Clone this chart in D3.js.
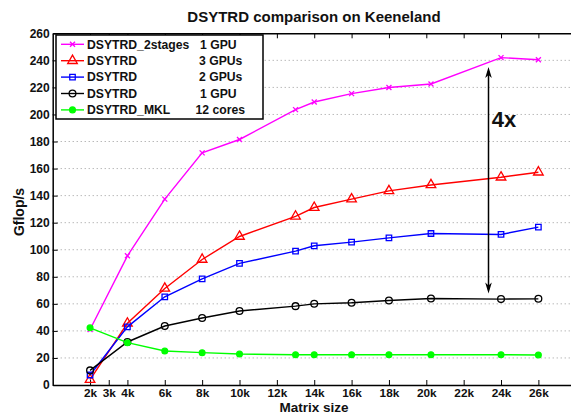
<!DOCTYPE html>
<html>
<head>
<meta charset="utf-8">
<script src="https://cdn.jsdelivr.net/npm/d3@7"></script>
<style>
  body { margin: 0; background: #fff; }
  svg { display: block; font-family: "Liberation Sans", Arial, Helvetica, sans-serif; }
</style>
</head>
<body>
<div id="chart"></div>
<script>
// matrix sizes (in thousands)
const sizes = [2, 4, 6, 8, 10, 13, 14, 16, 18, 20.25, 24, 26];
const xTicks = [2, 3, 4, 6, 8, 10, 12, 14, 16, 18, 20, 22, 24, 26];
const yTicks = [0, 20, 40, 60, 80, 100, 120, 140, 160, 180, 200, 220, 240, 260];

// Gflop/s per series
const twoStages1 = [41, 95.5, 137.4, 171.6, 181.5, 203.6, 209.2, 215.4, 219.9, 222.5, 242, 240.5];
const dsytrd3 = [4, 45.6, 71.4, 92.8, 109.8, 124.7, 131.2, 137.4, 143.5, 147.9, 153.6, 157.3];
const dsytrd2 = [7.4, 43, 65.2, 78.5, 89.9, 99, 102.9, 105.6, 108.8, 112, 111.3, 116.7];
const dsytrd1 = [10.8, 31.8, 43.6, 49.5, 54.7, 58.3, 60, 60.8, 62.5, 64, 63.5, 63.7];
const mkl12 = [42.3, 31.3, 25.1, 23.9, 22.9, 22.4, 22.4, 22.4, 22.4, 22.4, 22.4, 22.2];

const names = ["DSYTRD_2stages", "DSYTRD", "DSYTRD", "DSYTRD", "DSYTRD_MKL"];
const configs = ["1 GPU", "3 GPUs", "2 GPUs", "1 GPU", "12 cores"];

// speedup annotation
const arrowX = 23.33, arrowLow = 67.7, arrowHigh = 235;
const noteText = "4x", noteX = 23.5, noteY = 190.5;

const series = [
  {values: twoStages1, color: "#ff00ff", symbol: d3.symbolX, size: 18, fill: "none"},
  {values: dsytrd3, color: "#ff0000", symbol: d3.symbolTriangle, size: 40, fill: "none"},
  {values: dsytrd2, color: "#0000ff", symbol: d3.symbolSquare, size: 30, fill: "none"},
  {values: dsytrd1, color: "#000000", symbol: d3.symbolCircle, size: 36, fill: "none"},
  {values: mkl12, color: "#00ff00", symbol: d3.symbolCircle, size: 26, fill: "#00ff00"}
];

const width = 571, height = 415;
const svg = d3.select("#chart").append("svg")
  .attr("width", width).attr("height", height);

const x = d3.scaleLinear().domain([0, 28]).range([52.7, 52.7 + 28 * 18.68]);
const y = d3.scaleLinear().domain([0, 260]).range([385, 33.3]);

// horizontal dotted grid
svg.append("g").selectAll("line")
  .data(yTicks.filter(d => d > 0 && d < 260))
  .join("line")
  .attr("x1", x(0)).attr("x2", width)
  .attr("y1", d => y(d)).attr("y2", d => y(d))
  .attr("stroke", "#9a9a9a").attr("stroke-width", 1)
  .attr("stroke-dasharray", "1,3");

// axes
const styleAxis = (g, fs) => {
  g.select(".domain").attr("stroke", "#000").attr("stroke-width", 1.5);
  g.selectAll(".tick line").attr("stroke", "#000").attr("stroke-width", 1);
  g.selectAll("text").attr("font-size", fs).attr("font-weight", "bold")
    .attr("fill", "#111").attr("font-family", null);
};

svg.append("g").attr("transform", `translate(0,${y(0)})`)
  .call(d3.axisBottom(x).tickValues(xTicks).tickFormat(d => d + "k")
    .tickSizeInner(-5).tickSizeOuter(0).tickPadding(4))
  .call(styleAxis, 11.8);

svg.append("g").attr("transform", `translate(0,${y(260)})`)
  .call(d3.axisTop(x).tickValues(xTicks).tickFormat("")
    .tickSizeInner(-5).tickSizeOuter(0))
  .call(styleAxis, 12);

svg.append("g").attr("transform", `translate(${x(0)},0)`)
  .call(d3.axisLeft(y).tickValues(yTicks)
    .tickSizeInner(-5).tickSizeOuter(0).tickPadding(3))
  .call(styleAxis, 12);

// lines + markers
const line = d3.line().x((d, i) => x(sizes[i])).y(d => y(d));
series.forEach(s => {
  svg.append("path").datum(s.values)
    .attr("d", line).attr("fill", "none")
    .attr("stroke", s.color).attr("stroke-width", 1.4);
  svg.append("g").selectAll("path")
    .data(s.values).join("path")
    .attr("transform", (d, i) => `translate(${x(sizes[i])},${y(d)})`)
    .attr("d", d3.symbol(s.symbol, s.size))
    .attr("fill", s.fill).attr("stroke", s.color).attr("stroke-width", 1.3);
});

// double arrow
const ax = x(arrowX), ay1 = y(arrowHigh), ay2 = y(arrowLow);
svg.append("line")
  .attr("x1", ax).attr("x2", ax).attr("y1", ay1 + 4).attr("y2", ay2 - 4)
  .attr("stroke", "#000").attr("stroke-width", 1.5);
svg.append("path")
  .attr("d", `M${ax},${ay1}L${ax - 3.3},${ay1 + 11}L${ax},${ay1 + 8}L${ax + 3.3},${ay1 + 11}Z`)
  .attr("fill", "#000");
svg.append("path")
  .attr("d", `M${ax},${ay2}L${ax - 3.3},${ay2 - 11}L${ax},${ay2 - 8}L${ax + 3.3},${ay2 - 11}Z`)
  .attr("fill", "#000");
svg.append("text")
  .attr("x", x(noteX)).attr("y", y(noteY))
  .attr("font-size", 22).attr("font-weight", "bold").attr("fill", "#111")
  .text(noteText);

// legend
const lg = svg.append("g");
lg.append("rect")
  .attr("x", 56).attr("y", 35).attr("width", 207).attr("height", 84)
  .attr("fill", "#fff").attr("stroke", "#000").attr("stroke-width", 1.5);
series.forEach((s, i) => {
  const ly = 44.3 + i * 16.4;
  lg.append("line").attr("x1", 61).attr("x2", 84).attr("y1", ly).attr("y2", ly)
    .attr("stroke", s.color).attr("stroke-width", 1.4);
  lg.append("path").attr("transform", `translate(72.5,${ly})`)
    .attr("d", d3.symbol(s.symbol, s.size))
    .attr("fill", s.fill).attr("stroke", s.color).attr("stroke-width", 1.3);
  lg.append("text").attr("x", 87).attr("y", ly + 4.3)
    .attr("font-size", 12.2).attr("font-weight", "bold").attr("fill", "#111")
    .text(names[i]);
  lg.append("text").attr("x", i === 4 ? 195.5 : (i === 0 || i === 3 ? 200 : 199)).attr("y", ly + 4.3)
    .attr("font-size", 12.2).attr("font-weight", "bold").attr("fill", "#111")
    .text(configs[i]);
});

// titles
svg.append("text")
  .attr("x", 314).attr("y", 21.7).attr("text-anchor", "middle")
  .attr("font-size", 15).attr("font-weight", "bold").attr("fill", "#111")
  .text("DSYTRD comparison on Keeneland");
svg.append("text")
  .attr("x", 314).attr("y", 412).attr("text-anchor", "middle")
  .attr("font-size", 13.5).attr("font-weight", "bold").attr("fill", "#111")
  .text("Matrix size");
svg.append("text")
  .attr("transform", "translate(24,212) rotate(-90)").attr("text-anchor", "middle")
  .attr("font-size", 14).attr("font-weight", "bold").attr("fill", "#111")
  .text("Gflop/s");
</script>
</body>
</html>
